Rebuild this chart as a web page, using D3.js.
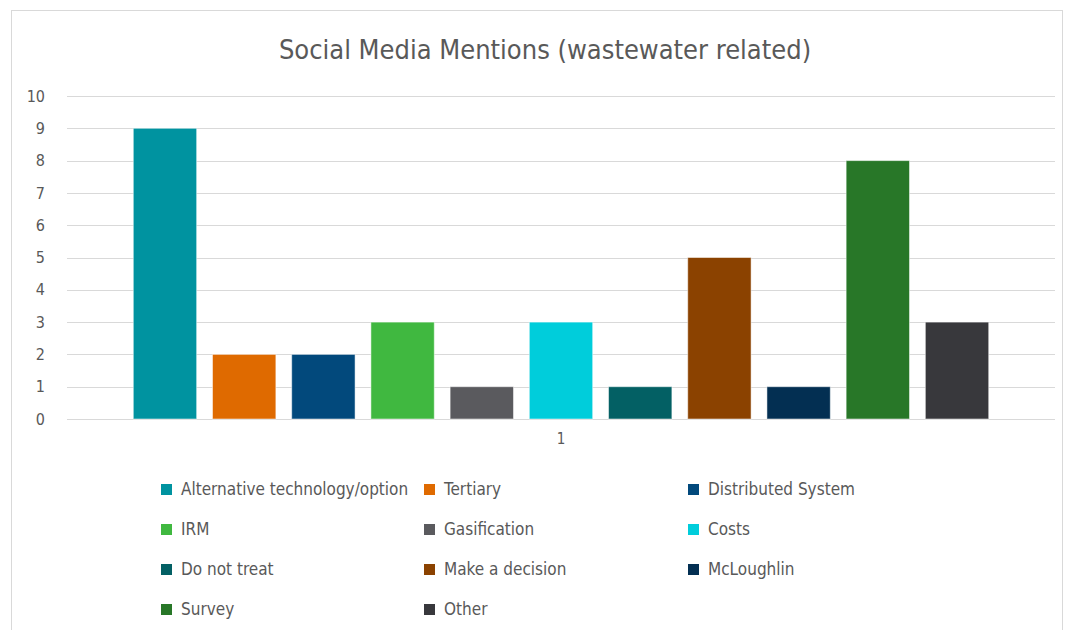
<!DOCTYPE html>
<html>
<head>
<meta charset="utf-8">
<script src="https://cdn.jsdelivr.net/npm/d3@7"></script>
<style>
  body { margin: 0; background: #fff; }
  svg text { font-family: "Liberation Sans Narrow", "DejaVu Sans Condensed", "Open Sans", sans-serif; fill: #595959; }
</style>
</head>
<body>
<div id="chart"></div>
<script>
// chart data
var categories = ['1'];
var seriesNames = ['Alternative technology/option', 'Tertiary', 'Distributed System', 'IRM',
  'Gasification', 'Costs', 'Do not treat', 'Make a decision', 'McLoughlin', 'Survey', 'Other'];
var seriesValues = [9, 2, 2, 3, 1, 3, 1, 5, 1, 8, 3];
var seriesColors = ['#0093a0', '#df6a00', '#02497c', '#40b840', '#5a5a5e', '#00cddb',
  '#036064', '#8b4200', '#032f52', '#287728', '#38383c'];
var yTicks = [0, 1, 2, 3, 4, 5, 6, 7, 8, 9, 10];
var title = 'Social Media Mentions (wastewater related)';

var W = 1066, H = 630;
var m = { top: 96, bottom: 211, left: 67, right: 11 };

var svg = d3.select('#chart').append('svg')
  .attr('width', W)
  .attr('height', H);

// outer frame of the chart object
svg.append('rect')
  .attr('x', 11.5).attr('y', 10.5)
  .attr('width', 1051).attr('height', 640)
  .attr('fill', 'none')
  .attr('stroke', '#d9d9d9');

svg.append('text')
  .attr('x', 545)
  .attr('y', 59)
  .attr('text-anchor', 'middle')
  .style('font-size', '27px')
  .text(title);

var y = d3.scaleLinear()
  .domain([0, 10])
  .range([H - m.bottom, m.top]);

var x0 = d3.scaleBand()
  .domain(categories)
  .range([m.left, W - m.right - m.left + 67 - 0])
  .paddingInner(0)
  .paddingOuter(0.0775);

var x1 = d3.scaleBand()
  .domain(seriesNames)
  .range([0, x0.bandwidth()])
  .paddingInner(0.2)
  .paddingOuter(0);

// gridlines
svg.append('g')
  .selectAll('line')
  .data(yTicks)
  .enter()
  .append('line')
  .attr('x1', m.left)
  .attr('x2', 1055)
  .attr('y1', function(d) { return Math.round(y(d)) + 0.5; })
  .attr('y2', function(d) { return Math.round(y(d)) + 0.5; })
  .attr('stroke', '#d9d9d9')
  .attr('stroke-width', 1);

// y axis labels
var yAxis = d3.axisLeft(y).tickValues(yTicks).tickSize(0).tickPadding(0);
var ya = svg.append('g')
  .attr('transform', 'translate(45,0)')
  .call(yAxis);
ya.select('.domain').remove();
ya.selectAll('text')
  .attr('fill', '#595959')
  .style('font-size', '16px');

// x axis labels
var xAxis = d3.axisBottom(x0).tickSize(0).tickPadding(0);
var xa = svg.append('g')
  .attr('transform', 'translate(0,' + (y(0) + 14) + ')')
  .call(xAxis);
xa.select('.domain').remove();
xa.selectAll('text')
  .attr('fill', '#595959')
  .style('font-size', '15px');

// bars
var groups = svg.selectAll('.cat')
  .data(categories)
  .enter()
  .append('g')
  .attr('class', 'cat')
  .attr('transform', function(d) { return 'translate(' + x0(d) + ',0)'; });

groups.selectAll('rect')
  .data(seriesNames.map(function(n, i) { return { name: n, value: seriesValues[i], color: seriesColors[i] }; }))
  .enter()
  .append('rect')
  .attr('x', function(d) { return x1(d.name); })
  .attr('width', x1.bandwidth())
  .attr('y', function(d) { return y(d.value); })
  .attr('height', function(d) { return y(0) - y(d.value); })
  .attr('fill', function(d) { return d.color; })
  .attr('stroke', '#ffffff')
  .attr('stroke-opacity', 0.5)
  .attr('stroke-width', 1);

// legend, 3 columns
var legendCols = [161, 424, 688];
var legendRows = [489, 529, 569, 609];
var legend = svg.append('g')
  .selectAll('.legend-item')
  .data(seriesNames)
  .enter()
  .append('g')
  .attr('class', 'legend-item')
  .attr('transform', function(d, i) {
    return 'translate(' + legendCols[i % 3] + ',' + legendRows[Math.floor(i / 3)] + ')';
  });

legend.append('rect')
  .attr('x', 0)
  .attr('y', -5)
  .attr('width', 11)
  .attr('height', 11)
  .attr('fill', function(d, i) { return seriesColors[i]; });

legend.append('text')
  .attr('x', 20)
  .attr('dy', '.35em')
  .style('font-size', '17px')
  .text(function(d) { return d; });
</script>
</body>
</html>
